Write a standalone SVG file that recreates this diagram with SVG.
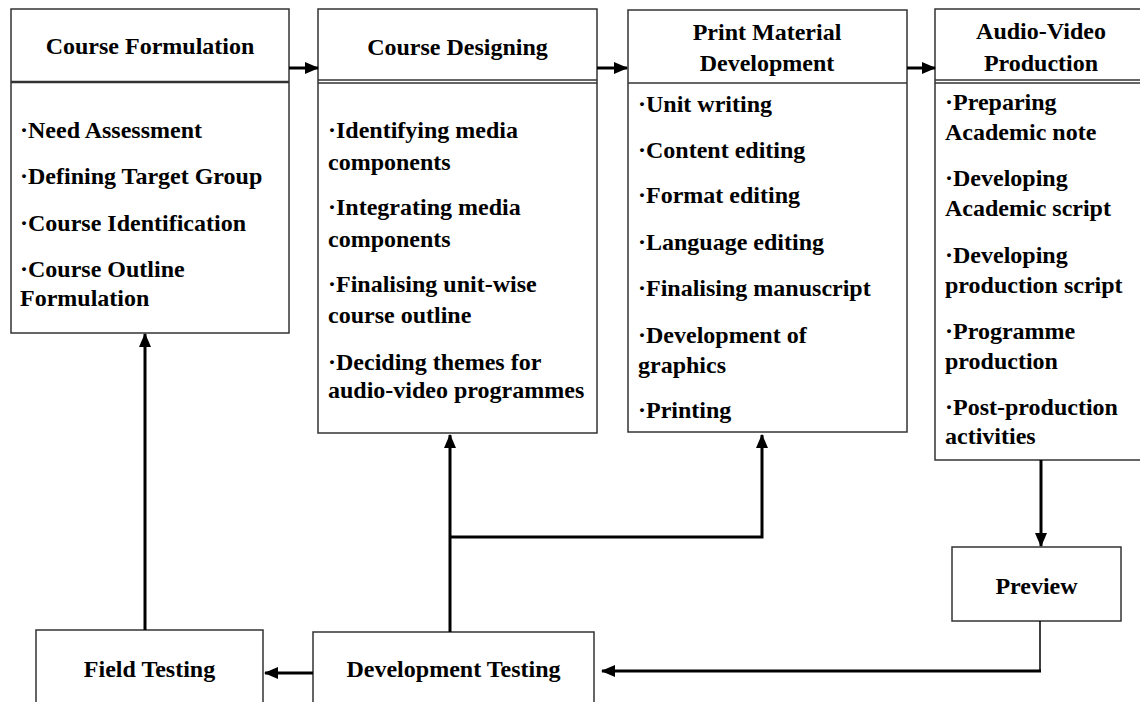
<svg xmlns="http://www.w3.org/2000/svg" width="1140" height="702" viewBox="0 0 1140 702">
<style>
.box{fill:#fff;stroke:#333;stroke-width:1.5}
.div{stroke:#333;stroke-width:1.5}
.t{font-family:"Liberation Serif","Times New Roman",serif;font-weight:bold;font-size:24px;fill:#000}
.h{text-anchor:middle}
.c{fill:none;stroke:#000;stroke-width:3}
.thin{fill:none;stroke:#000;stroke-width:1.5}
</style>
<defs>
<marker id="ah" markerUnits="userSpaceOnUse" markerWidth="14" markerHeight="12" refX="13" refY="6" orient="auto">
<path d="M0,0 L14,6 L0,12 z" fill="#000"/>
</marker>
</defs>
<rect width="1140" height="702" fill="#fff"/>

<g id="course-formulation">
<rect class="box" x="11" y="9" width="278" height="324"/>
<line class="div" x1="11" y1="82" x2="289" y2="82" style="stroke-width:2.5"/>
<text class="t h" x="150" y="54">Course Formulation</text>
<text class="t" x="20">
<tspan x="20" y="138">·Need Assessment</tspan>
<tspan x="20" y="184">·Defining Target Group</tspan>
<tspan x="20" y="231">·Course Identification</tspan>
<tspan x="20" y="277">·Course Outline</tspan>
<tspan x="20" y="306">Formulation</tspan>
</text>
</g>

<g id="course-designing">
<rect class="box" x="318" y="9" width="279" height="424"/>
<line class="div" x1="318" y1="80" x2="597" y2="80"/>
<line class="div" x1="318" y1="83" x2="597" y2="83"/>
<text class="t h" x="457.5" y="55">Course Designing</text>
<text class="t">
<tspan x="328" y="138">·Identifying media</tspan>
<tspan x="328" y="170">components</tspan>
<tspan x="328" y="215">·Integrating media</tspan>
<tspan x="328" y="247">components</tspan>
<tspan x="328" y="292">·Finalising unit-wise</tspan>
<tspan x="328" y="323">course outline</tspan>
<tspan x="328" y="370">·Deciding themes for</tspan>
<tspan x="328" y="398">audio-video programmes</tspan>
</text>
</g>

<g id="print-material">
<rect class="box" x="628" y="10" width="279" height="422"/>
<line class="div" x1="628" y1="83" x2="907" y2="83"/>
<text class="t h" x="767" y="40">Print Material</text>
<text class="t h" x="767" y="71">Development</text>
<text class="t">
<tspan x="638" y="112">·Unit writing</tspan>
<tspan x="638" y="158">·Content editing</tspan>
<tspan x="638" y="203">·Format editing</tspan>
<tspan x="638" y="250">·Language editing</tspan>
<tspan x="638" y="296">·Finalising manuscript</tspan>
<tspan x="638" y="343">·Development of</tspan>
<tspan x="638" y="373">graphics</tspan>
<tspan x="638" y="418">·Printing</tspan>
</text>
</g>

<g id="audio-video">
<rect class="box" x="935" y="9" width="212" height="451"/>
<line class="div" x1="935" y1="80" x2="1147" y2="80"/>
<line class="div" x1="935" y1="83" x2="1147" y2="83"/>
<text class="t h" x="1041" y="39">Audio-Video</text>
<text class="t h" x="1041" y="71">Production</text>
<text class="t">
<tspan x="945" y="110">·Preparing</tspan>
<tspan x="945" y="140">Academic note</tspan>
<tspan x="945" y="186">·Developing</tspan>
<tspan x="945" y="216">Academic script</tspan>
<tspan x="945" y="263">·Developing</tspan>
<tspan x="945" y="293">production script</tspan>
<tspan x="945" y="339">·Programme</tspan>
<tspan x="945" y="369">production</tspan>
<tspan x="945" y="415">·Post-production</tspan>
<tspan x="945" y="444">activities</tspan>
</text>
</g>

<g id="preview">
<rect class="box" x="952" y="547" width="169" height="74"/>
<text class="t h" x="1036.5" y="594">Preview</text>
</g>

<g id="development-testing">
<rect class="box" x="313" y="632" width="281" height="80"/>
<text class="t h" x="453.5" y="677">Development Testing</text>
</g>

<g id="field-testing">
<rect class="box" x="36" y="630" width="227" height="82"/>
<text class="t h" x="149.5" y="677">Field Testing</text>
</g>

<g id="connectors">
<line class="c" x1="289" y1="68" x2="318" y2="68" marker-end="url(#ah)"/>
<line class="c" x1="597" y1="68" x2="627" y2="68" marker-end="url(#ah)"/>
<line class="c" x1="907" y1="68" x2="935" y2="68" marker-end="url(#ah)"/>
<line class="c" x1="1041" y1="460" x2="1041" y2="546" marker-end="url(#ah)"/>
<line class="thin" x1="1040" y1="621" x2="1040" y2="671"/>
<line class="c" x1="1041" y1="671" x2="602" y2="671" marker-end="url(#ah)"/>
<line class="c" x1="313" y1="673" x2="265" y2="673" marker-end="url(#ah)"/>
<line class="c" x1="145" y1="630" x2="145" y2="334" marker-end="url(#ah)"/>
<line class="c" x1="450" y1="632" x2="450" y2="435" marker-end="url(#ah)"/>
<polyline class="c" points="450,537 762,537 762,435" marker-end="url(#ah)"/>
</g>
</svg>
